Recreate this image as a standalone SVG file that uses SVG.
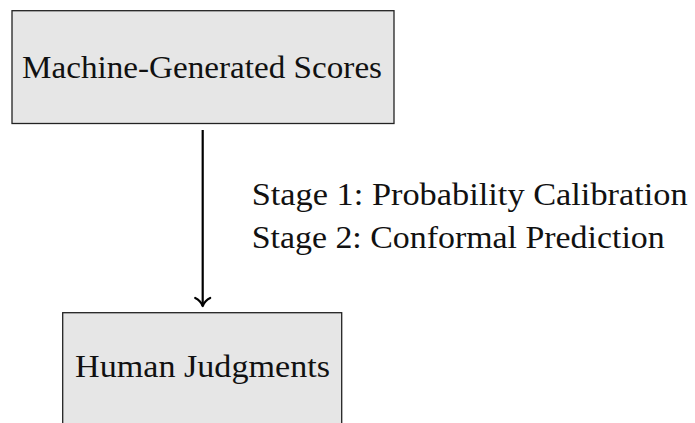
<svg xmlns="http://www.w3.org/2000/svg" width="695" height="423" viewBox="0 0 695 423">
<style>
.box{fill:#e6e6e6;stroke:#222;stroke-width:1.3}
.t{font-family:"Liberation Serif","Times New Roman",serif;font-size:32px;fill:#111}
.edge{stroke:#000;stroke-width:2.2;fill:none}
</style>
<defs>
<marker id="arr" markerUnits="userSpaceOnUse" markerWidth="20" markerHeight="20" viewBox="-12 -10 14 20" refX="0" refY="0" orient="auto">
<path d="M-8,-7.5 C-6,-3 -2,-0.8 0,0 C-2,0.8 -6,3 -8,7.5" fill="none" stroke="#000" stroke-width="2.2" stroke-linecap="round" stroke-linejoin="round"/>
</marker>
</defs>
<rect width="695" height="423" fill="#fff"/>
<g id="node-machine">
<rect class="box" x="12" y="10.7" width="382" height="112.8"/>
<text class="t" x="22" y="78.3" textLength="360" lengthAdjust="spacingAndGlyphs">Machine-Generated Scores</text>
</g>
<g id="node-human">
<rect class="box" x="62.7" y="312.7" width="279" height="120"/>
<text class="t" x="75" y="377" textLength="255" lengthAdjust="spacingAndGlyphs">Human Judgments</text>
</g>
<g id="connectors">
<line class="edge" x1="202.7" y1="130" x2="202.7" y2="306" marker-end="url(#arr)"/>
<text class="t" x="251.7" y="205" textLength="436" lengthAdjust="spacingAndGlyphs">Stage 1: Probability Calibration</text>
<text class="t" x="251.7" y="248.3" textLength="413" lengthAdjust="spacingAndGlyphs">Stage 2: Conformal Prediction</text>
</g>
</svg>
